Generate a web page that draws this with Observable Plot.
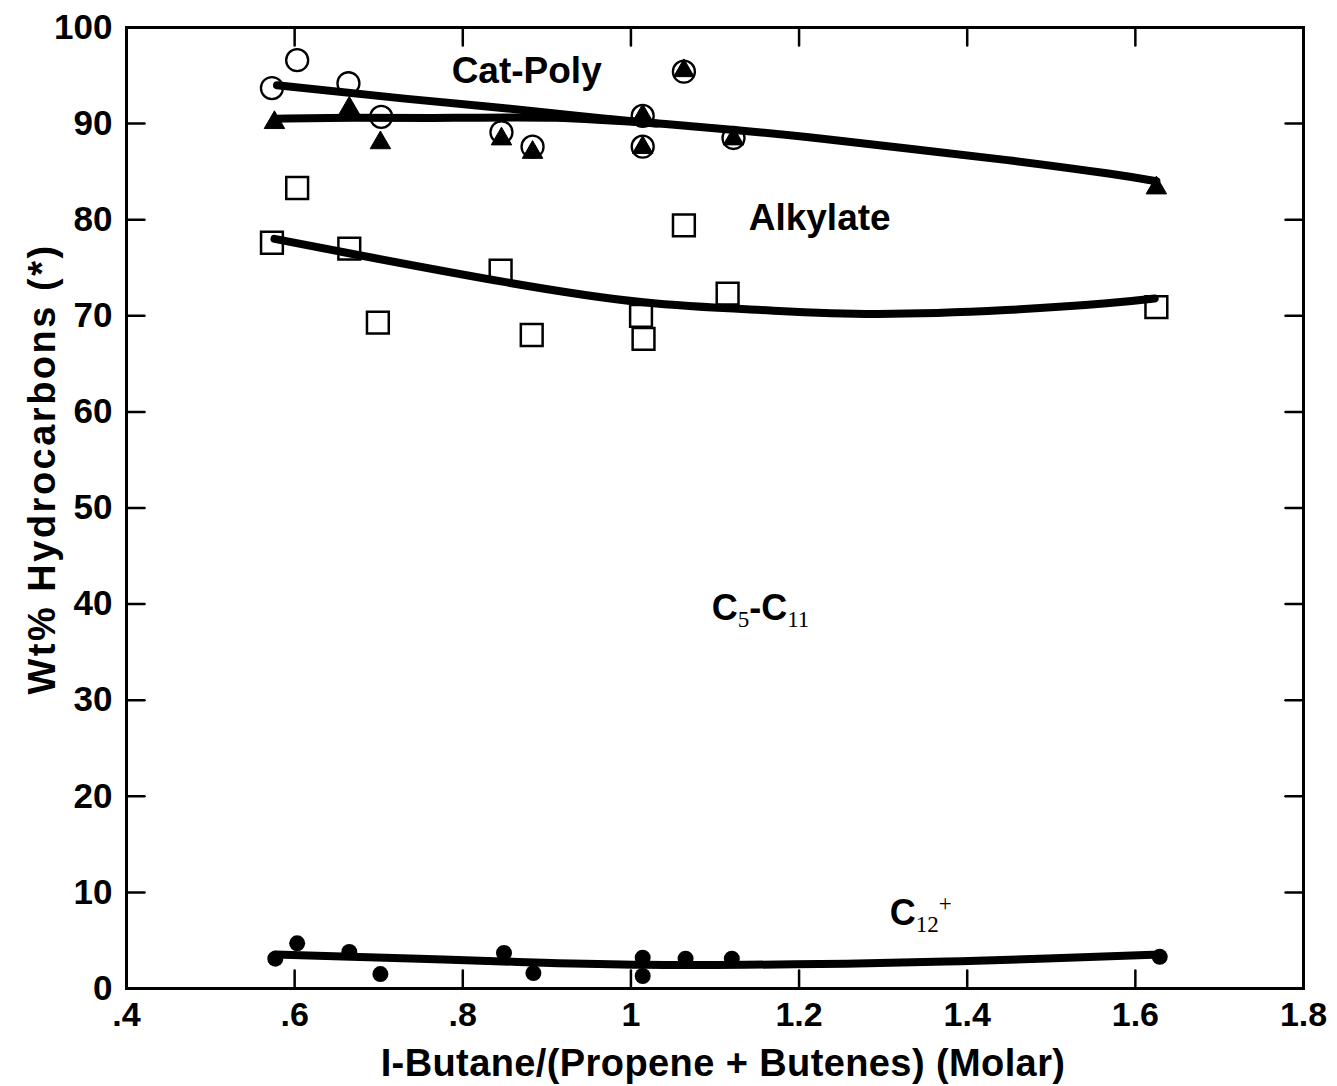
<!DOCTYPE html>
<html><head><meta charset="utf-8">
<script src="https://cdn.jsdelivr.net/npm/d3@7"></script>
<script src="https://cdn.jsdelivr.net/npm/@observablehq/plot@0.6"></script>
<style>body{margin:0;background:#fff}</style>
</head><body><div id="chart"></div>
<script>
// axis ticks
const xTicks = [0.4, 0.6, 0.8, 1.0, 1.2, 1.4, 1.6, 1.8];
const xTickLabels = [".4", ".6", ".8", "1", "1.2", "1.4", "1.6", "1.8"];
const yTicks = [0, 10, 20, 30, 40, 50, 60, 70, 80, 90, 100];
const xTitle = "I-Butane/(Propene + Butenes) (Molar)";
const yTitle = "Wt% Hydrocarbons (*)";

// open circles
const circleX = [0.573, 0.603, 0.664, 0.703, 0.846, 0.883, 1.014, 1.014, 1.063, 1.122];
const circleY = [93.7, 96.6, 94.2, 90.7, 89.1, 87.6, 90.8, 87.6, 95.4, 88.5];
// filled triangles
const triangleX = [0.576, 0.665, 0.702, 0.846, 0.883, 1.014, 1.014, 1.063, 1.122, 1.625];
const triangleY = [90.1, 91.6, 88.0, 88.4, 87.0, 90.8, 87.5, 95.5, 88.4, 83.3];
// open squares (alkylate)
const squareX = [0.573, 0.603, 0.665, 0.699, 0.845, 0.882, 1.012, 1.015, 1.063, 1.115, 1.625];
const squareY = [77.6, 83.3, 77.0, 69.3, 74.7, 68.0, 70.0, 67.6, 79.4, 72.3, 70.9];
// filled dots (C12+)
const c12X = [0.577, 0.603, 0.665, 0.702, 0.849, 0.884, 1.014, 1.014, 1.065, 1.120, 1.629];
const c12Y = [3.1, 4.7, 3.8, 1.5, 3.7, 1.6, 3.2, 1.3, 3.1, 3.1, 3.3];

// fitted curves
const catPolyFitX = [0.579, 0.731, 0.850, 0.970, 1.089, 1.209, 1.329, 1.448, 1.568, 1.625];
const catPolyFitY = [94.0, 92.6, 91.6, 90.5, 89.6, 88.6, 87.4, 86.2, 84.8, 84.0];
const triFitX = [0.577, 0.670, 0.790, 0.910, 1.030];
const triFitY = [90.5, 90.6, 90.6, 90.6, 90.0];
const alkFitX = [0.576, 0.677, 0.851, 1.015, 1.155, 1.290, 1.446, 1.566, 1.623];
const alkFitY = [78.0, 76.3, 73.5, 71.4, 70.6, 70.2, 70.6, 71.3, 71.8];
const c12FitX = [0.577, 0.657, 0.777, 0.896, 1.016, 1.136, 1.256, 1.375, 1.495, 1.629];
const c12FitY = [3.55, 3.33, 3.01, 2.69, 2.47, 2.47, 2.58, 2.80, 3.12, 3.55];

// annotations
const plainLabels = ["Cat-Poly", "Alkylate"];
const plainLabelX = [0.876, 1.2245];
const plainLabelY = [95.5, 80.2];
const chemLabels = [
  [["C", 0], ["5", 1], ["-C", 0], ["11", 1]],
  [["C", 0], ["12", 1], ["+", 2]]
];
const chemLabelX = [1.096, 1.308];
const chemLabelY = [39.5, 7.85];

const zip = (xs, ys) => xs.map((x, i) => ({x, y: ys[i]}));
const xLabelMap = new Map(xTicks.map((t, i) => [t, xTickLabels[i]]));
const innerX = xTicks.slice(1, -1);
const innerY = yTicks.slice(1, -1);
const tickShape = {draw(ctx, l) { ctx.moveTo(0, 0); ctx.lineTo(0, -l); }};
const tickLen = 18;

const lineOpts = {x: "x", y: "y", stroke: "black", strokeWidth: 8, curve: "natural", strokeLinecap: "round", strokeLinejoin: "round"};

const svg = Plot.plot({
  width: 1337,
  height: 1086,
  marginLeft: 126,
  marginRight: 34,
  marginTop: 27,
  marginBottom: 98,
  style: {fontFamily: "'Liberation Sans', Arial, sans-serif", background: "white", color: "black"},
  x: {domain: [0.4, 1.8]},
  y: {domain: [0, 100]},
  marks: [
    Plot.frame({stroke: "black", strokeWidth: 3}),
    Plot.vector(innerX, {x: d => d, frameAnchor: "bottom", length: tickLen, anchor: "start", rotate: 0, shape: tickShape, stroke: "black", strokeWidth: 2.5}),
    Plot.vector(innerX, {x: d => d, frameAnchor: "top", length: tickLen, anchor: "start", rotate: 180, shape: tickShape, stroke: "black", strokeWidth: 2.5}),
    Plot.vector(innerY, {y: d => d, frameAnchor: "left", length: tickLen, anchor: "start", rotate: 90, shape: tickShape, stroke: "black", strokeWidth: 2.5}),
    Plot.vector(innerY, {y: d => d, frameAnchor: "right", length: tickLen, anchor: "start", rotate: -90, shape: tickShape, stroke: "black", strokeWidth: 2.5}),
    Plot.axisX(xTicks, {anchor: "bottom", tickSize: 0, tickPadding: 13, tickFormat: d => xLabelMap.get(d), fontSize: 34, fontWeight: "bold", label: null}),
    Plot.axisY(yTicks, {anchor: "left", tickSize: 0, tickPadding: 14, fontSize: 35, fontWeight: "bold", label: null}),
    Plot.text([xTitle], {frameAnchor: "bottom", textAnchor: "middle", lineAnchor: "middle", dx: 8, dy: 75, fontSize: 38, fontWeight: "bold", className: "xtitle"}),
    Plot.text([yTitle], {frameAnchor: "left", textAnchor: "middle", lineAnchor: "middle", dx: -84, dy: -39, rotate: -90, fontSize: 38, fontWeight: "bold", className: "ytitle"}),
    Plot.line(zip(catPolyFitX, catPolyFitY), lineOpts),
    Plot.line(zip(triFitX, triFitY), lineOpts),
    Plot.line(zip(alkFitX, alkFitY), lineOpts),
    Plot.line(zip(c12FitX, c12FitY), lineOpts),
    Plot.dot(zip(circleX, circleY), {x: "x", y: "y", r: 11, symbol: "circle", fill: "none", stroke: "black", strokeWidth: 2.3}),
    Plot.dot(zip(triangleX, triangleY), {x: "x", y: "y", r: 7.6, symbol: "triangle", fill: "black", stroke: "black", strokeWidth: 1}),
    Plot.dot(zip(squareX, squareY), {x: "x", y: "y", r: 12.3, symbol: "square", fill: "none", stroke: "black", strokeWidth: 2.5}),
    Plot.dot(zip(c12X, c12Y), {x: "x", y: "y", r: 8, fill: "black"}),
    Plot.text(plainLabels, {x: (d, i) => plainLabelX[i], y: (d, i) => plainLabelY[i], text: d => d, fontSize: 37, fontWeight: "bold"}),
    Plot.text(chemLabels, {x: (d, i) => chemLabelX[i], y: (d, i) => chemLabelY[i], text: d => d.map(p => p[0]).join(""), textAnchor: "start", fontSize: 36, fontWeight: "bold", className: "chem"})
  ]
});

// letter spacing for the axis titles, as in the scanned original
d3.select(svg).selectAll(".ytitle text").attr("letter-spacing", "2.5px");
d3.select(svg).selectAll(".xtitle text").attr("letter-spacing", "0.4px");

// subscript / superscript rendering for chemical labels
d3.select(svg).selectAll(".chem text").each(function(i) {
  const parts = chemLabels[i];
  const el = d3.select(this);
  el.text(null);
  let shift = 0;
  for (const [t, kind] of parts) {
    const target = kind === 1 ? 7 : kind === 2 ? -14 : 0;
    const ts = el.append("tspan").text(t).attr("dy", target - shift);
    if (kind) ts.attr("font-family", "'Liberation Serif', 'DejaVu Serif', serif").attr("font-weight", "normal").attr("font-size", 23);
    shift = target;
  }
});

document.getElementById("chart").appendChild(svg);
</script>
</body></html>
